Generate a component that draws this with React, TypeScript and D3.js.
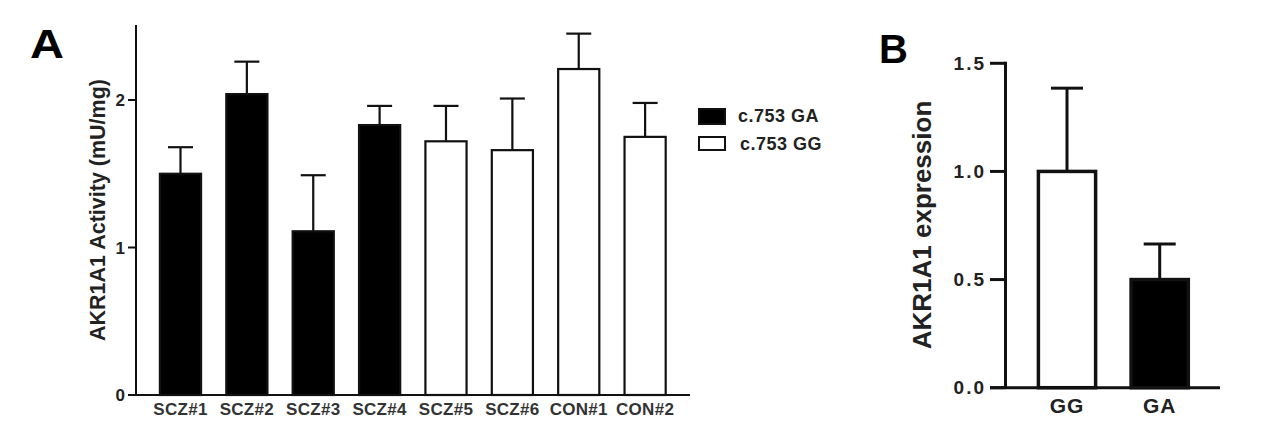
import React from "react";
import * as d3 from "d3";

// Panel A data
const categoriesA = ["SCZ#1", "SCZ#2", "SCZ#3", "SCZ#4", "SCZ#5", "SCZ#6", "CON#1", "CON#2"];
const valuesA = [1.5, 2.04, 1.11, 1.83, 1.72, 1.66, 2.21, 1.75];
const errorsA = [0.18, 0.22, 0.38, 0.13, 0.24, 0.35, 0.24, 0.23];
const genotypeA = ["GA", "GA", "GA", "GA", "GG", "GG", "GG", "GG"];
const ticksA = [0, 1, 2];
const legendLabels = ["c.753 GA", "c.753 GG"];
const legendKeys = ["GA", "GG"];

// Panel B data
const categoriesB = ["GG", "GA"];
const valuesB = [1.0, 0.5];
const errorsB = [0.385, 0.165];
const ticksB = [0, 0.5, 1.0, 1.5];

const FONT = "'Liberation Sans', Arial, Helvetica, sans-serif";
const TXT = "#222";

export default function App() {
  // Panel A scales
  const xA = d3.scaleBand<string>().domain(categoriesA).range([147.3, 678.3]).paddingInner(0.35).paddingOuter(0.175);
  const yA = d3.scaleLinear().domain([0, 2.5]).range([395, 26.25]);
  const capA = 25;

  // Panel B scales
  const xB = d3.scaleBand<string>().domain(categoriesB).range([1020.65, 1206.05]).paddingInner(0.345).paddingOuter(0.1725);
  const yB = d3.scaleLinear().domain([0, 1.5]).range([387.7, 63.3]);
  const capB = 32;

  const axA = 136;
  const axB = 1005.5;

  return (
    <svg width={1280} height={423} style={{ position: "absolute", left: 0, top: 0, display: "block", background: "#fff" }} fontFamily={FONT}>
      <rect x={0} y={0} width={1280} height={423} fill="#fff" />
      {/* Panel A */}
      <text x={30} y={58} fontSize={40} fontWeight="bold" fill="#000" textLength={34} lengthAdjust="spacingAndGlyphs">A</text>
      {/* error bars A (behind bars) */}
      {categoriesA.map((c, i) => {
        const cx = (xA(c) as number) + xA.bandwidth() / 2;
        const yt = yA(valuesA[i] + errorsA[i]);
        return (
          <g key={"eA" + c} stroke="#111" strokeWidth={2.2}>
            <line x1={cx} x2={cx} y1={yA(valuesA[i])} y2={yt} />
            <line x1={cx - capA / 2} x2={cx + capA / 2} y1={yt} y2={yt} />
          </g>
        );
      })}
      {categoriesA.map((c, i) => {
        const x0 = xA(c) as number;
        const ga = genotypeA[i] === "GA";
        return (
          <rect
            key={"bA" + c}
            x={x0 + 1}
            y={yA(valuesA[i])}
            width={xA.bandwidth() - 2}
            height={yA(0) - yA(valuesA[i])}
            fill={ga ? "#000" : "#fff"}
            stroke="#111"
            strokeWidth={2.2}
          />
        );
      })}
      {/* axes A */}
      <line x1={axA} x2={axA} y1={25} y2={yA(0)} stroke="#111" strokeWidth={2} />
      <line x1={129} x2={690} y1={yA(0)} y2={yA(0)} stroke="#111" strokeWidth={2} />
      {ticksA.map((t) => (
        <g key={"tA" + t}>
          <line x1={axA - 8} x2={axA} y1={yA(t)} y2={yA(t)} stroke="#111" strokeWidth={2} />
          <text x={125} y={yA(t) + 6} fontSize={17} fontWeight="bold" fill={TXT} textAnchor="end">{t}</text>
        </g>
      ))}
      {categoriesA.map((c) => (
        <text key={"lA" + c} x={(xA(c) as number) + xA.bandwidth() / 2} y={415} fontSize={17} fontWeight="bold" fill="#333" textAnchor="middle" letterSpacing={0.3}>{c}</text>
      ))}
      <text transform={`translate(105,210) rotate(-90)`} fontSize={21.5} fontWeight="bold" fill={TXT} textAnchor="middle">AKR1A1 Activity (mU/mg)</text>

      {/* Legend */}
      {legendKeys.map((k, i) => (
        <g key={"lg" + k}>
          <rect x={699} y={i === 0 ? 109 : 137} width={26} height={i === 0 ? 15 : 13} fill={k === "GA" ? "#000" : "#fff"} stroke="#111" strokeWidth={2} />
          <text x={i === 0 ? 738 : 740} y={i === 0 ? 122 : 150} fontSize={18} fontWeight="bold" fill={TXT} letterSpacing={0.5}>{legendLabels[i]}</text>
        </g>
      ))}

      {/* Panel B */}
      <text x={879} y={63} fontSize={40} fontWeight="bold" fill="#000">B</text>
      {categoriesB.map((c, i) => {
        const cx = (xB(c) as number) + xB.bandwidth() / 2;
        const yt = yB(valuesB[i] + errorsB[i]);
        return (
          <g key={"eB" + c} stroke="#111" strokeWidth={3}>
            <line x1={cx} x2={cx} y1={yB(valuesB[i])} y2={yt} />
            <line x1={cx - capB / 2} x2={cx + capB / 2} y1={yt} y2={yt} />
          </g>
        );
      })}
      {categoriesB.map((c, i) => {
        const x0 = xB(c) as number;
        return (
          <rect
            key={"bB" + c}
            x={x0 + 1.75}
            y={yB(valuesB[i])}
            width={xB.bandwidth() - 3.5}
            height={yB(0) - yB(valuesB[i])}
            fill={c === "GA" ? "#000" : "#fff"}
            stroke="#111"
            strokeWidth={3.5}
          />
        );
      })}
      <line x1={axB} x2={axB} y1={yB(1.5) - 1.5} y2={yB(0)} stroke="#111" strokeWidth={3} />
      <line x1={990} x2={1220} y1={yB(0)} y2={yB(0)} stroke="#111" strokeWidth={3} />
      {ticksB.map((t) => (
        <g key={"tB" + t}>
          <line x1={990} x2={axB} y1={yB(t)} y2={yB(t)} stroke="#111" strokeWidth={3} />
          <text x={986} y={yB(t) + 6.5} fontSize={19} fontWeight="bold" fill={TXT} textAnchor="end" letterSpacing={2}>{d3.format(".1f")(t)}</text>
        </g>
      ))}
      {categoriesB.map((c) => (
        <text key={"lB" + c} x={(xB(c) as number) + xB.bandwidth() / 2} y={413} fontSize={21} fontWeight="bold" fill={TXT} textAnchor="middle" letterSpacing={1}>{c}</text>
      ))}
      <text transform={`translate(931,225) rotate(-90)`} fontSize={26} fontWeight="bold" fill={TXT} textAnchor="middle">AKR1A1 expression</text>
    </svg>
  );
}
